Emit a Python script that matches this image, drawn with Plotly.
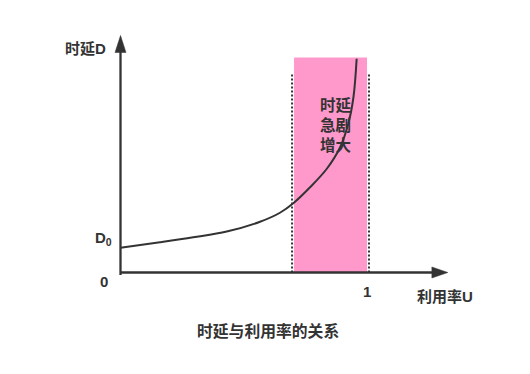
import plotly.graph_objects as go

# ---- data ----
curve_u = [0.0, 0.16, 0.295, 0.431, 0.566, 0.647, 0.701, 0.769, 0.837, 0.891, 0.924, 0.945, 0.958]
curve_d = [0.99, 1.21, 1.41, 1.64, 2.03, 2.39, 2.77, 3.41, 4.15, 5.01, 5.95, 7.01, 8.55]

band_u = [0.704, 1.0]          # pink "rapid increase" zone
band_top = 8.6
guide_u = [0.696, 1.008]       # dotted guide lines
guide_top = 8.0

x_axis_end = 1.328
y_axis_end = 9.48

tick_labels = ["0", "1", "D<sub>0</sub>"]
y_title = "时延D"
x_title = "利用率U"
band_text = "时延<br>急剧<br>增大"
caption = "时延与利用率的关系"

INK = "#333333"
PINK = "#FF99CC"
FONT = "Liberation Sans, Noto Sans CJK SC, sans-serif"

fig = go.Figure()

fig.add_trace(go.Scatter(
    x=curve_u, y=curve_d, mode="lines",
    line=dict(color=INK, width=2, shape="spline", smoothing=1.0),
    hoverinfo="skip", showlegend=False,
))

shapes = []
shapes.append(dict(type="rect", xref="x", yref="y",
                   x0=band_u[0], x1=band_u[1], y0=0, y1=band_top,
                   fillcolor=PINK, line=dict(width=0), layer="below"))
for gu in guide_u:
    shapes.append(dict(type="line", xref="x", yref="y",
                       x0=gu, x1=gu, y0=0, y1=guide_top,
                       line=dict(color=INK, width=2, dash="2px,2px"), layer="below"))
shapes.append(dict(type="line", xref="x", yref="y", x0=0, x1=x_axis_end - 0.03,
                   y0=0, y1=0, line=dict(color=INK, width=2.3)))
shapes.append(dict(type="line", xref="x", yref="y", x0=0, x1=0,
                   y0=-0.1, y1=y_axis_end - 0.3, line=dict(color=INK, width=2.3)))
shapes.append(dict(type="path", xref="x", yref="y",
                   xsizemode="pixel", ysizemode="pixel",
                   xanchor=x_axis_end, yanchor=0,
                   path="M0,0 L-16,5.5 L-16,-5.5 Z",
                   fillcolor=INK, line=dict(color=INK, width=0.5)))
shapes.append(dict(type="path", xref="x", yref="y",
                   xsizemode="pixel", ysizemode="pixel",
                   xanchor=0, yanchor=y_axis_end,
                   path="M0,0 L-5.5,-17 L5.5,-17 Z",
                   fillcolor=INK, line=dict(color=INK, width=0.5)))

ann = []
def txt(x, y, s, size=15, xanchor="center", yanchor="middle"):
    ann.append(dict(x=x, y=y, xref="x", yref="y", text=s, showarrow=False,
                    xanchor=xanchor, yanchor=yanchor,
                    font=dict(family=FONT, size=size, color=INK, weight="bold")))

txt(-0.052, 8.98, y_title, xanchor="right")
txt(-0.067, -0.34, tick_labels[0])
txt(1.0, -0.74, tick_labels[1])
txt(-0.028, 1.38, tick_labels[2], xanchor="right")
txt(1.316, -0.94, x_title)
txt(0.876, 5.9, band_text, size=15.5)
txt(0.598, -2.34, caption, size=15.8)

fig.update_layout(
    width=530, height=374, autosize=False,
    margin=dict(l=0, r=0, t=0, b=0),
    paper_bgcolor="white", plot_bgcolor="white",
    xaxis=dict(visible=False, range=[-0.4564, 1.6937], fixedrange=True),
    yaxis=dict(visible=False, range=[-4.38, 10.58], fixedrange=True),
    shapes=shapes, annotations=ann, showlegend=False,
)

fig.write_html("out.html")
